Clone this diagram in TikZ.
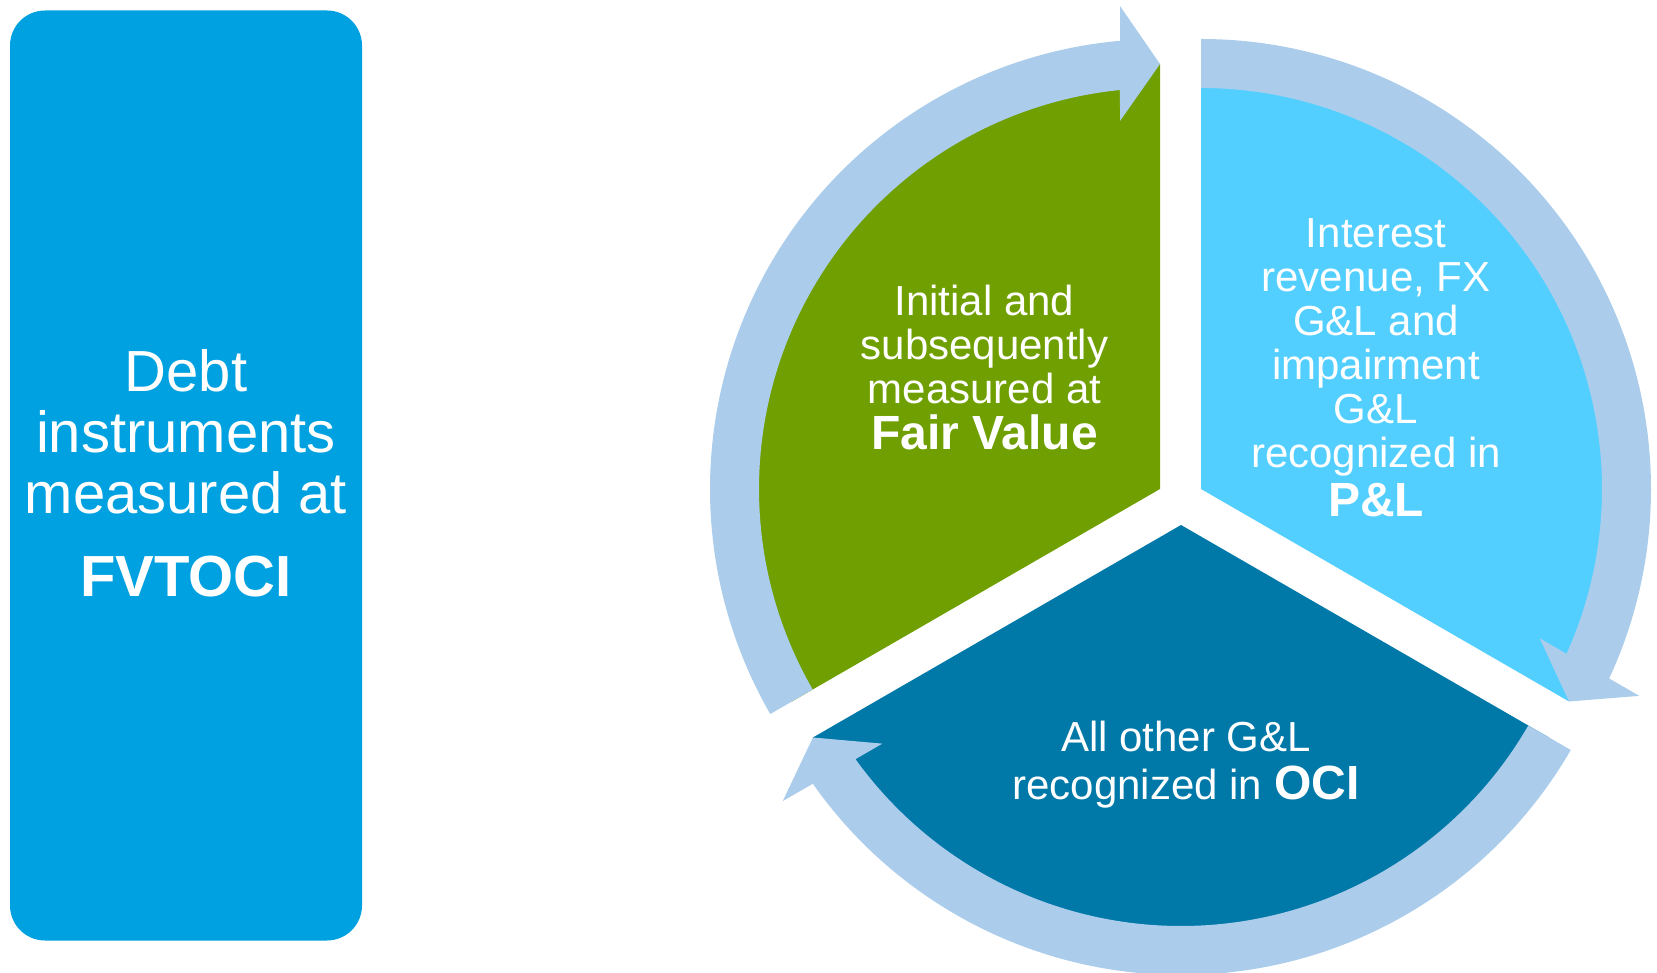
\documentclass[tikz,border=0pt]{standalone}
\usepackage{fontspec}
\setmainfont{Liberation Sans}
\usetikzlibrary{calc}
\definecolor{boxblue}{RGB}{0,161,224}
\definecolor{segGreen}{RGB}{111,159,0}
\definecolor{segLight}{RGB}{83,207,255}
\definecolor{segDark}{RGB}{0,120,168}
\definecolor{ringblue}{RGB}{171,205,235}
\newcommand{\bigbold}[1]{{\fontsize{48}{44}\selectfont\bfseries #1}}
\begin{document}
\begin{tikzpicture}[x=1pt,y=1pt,
  labeltext/.style={text=white, align=center, inner sep=0pt, anchor=base},
  ringarrow/.style={fill=ringblue}
]
\useasboundingbox (0,0) rectangle (1657,972);
% left box
\node[fill=boxblue, rounded corners=35pt, minimum width=352pt, minimum height=930pt, inner sep=0pt] (box) at (186,496.5) {};
\node[labeltext, font=\fontsize{58}{61}\selectfont] (boxtext) at (186,375)
  {Debt\\instruments\\measured at\\[22pt]\textbf{FVTOCI}};
% apexes
\coordinate (G) at (1160,483);
\coordinate (B) at (1201,483);
\coordinate (D) at (1181,447);
% sectors
\fill[segGreen] (G) -- ++(90:425pt) arc[start angle=90, end angle=210, radius=425pt] -- cycle;
\fill[segLight] (B) -- ++(-30:425pt) arc[start angle=-30, end angle=90, radius=425pt] -- cycle;
\fill[segDark] (D) -- ++(210:425pt) arc[start angle=210, end angle=330, radius=425pt] -- cycle;
% ring arrows
\begin{scope}[shift={(G)}]
\fill[ringarrow] (210:401pt) arc[start angle=210, end angle=95.73, radius=401pt]
  -- ($(90:368pt)+(180:40pt)$) -- (90:425pt) -- ($(90:483pt)+(180:40pt)$)
  -- (95.1:450pt) arc[start angle=95.1, end angle=210, radius=450pt] -- cycle;
\end{scope}
\begin{scope}[shift={(B)}]
\fill[ringarrow] (90:401pt) arc[start angle=90, end angle=-24.27, radius=401pt]
  -- ($(-30:368pt)+(60:40pt)$) -- (-30:425pt) -- ($(-30:483pt)+(60:40pt)$)
  -- (-24.9:450pt) arc[start angle=-24.9, end angle=90, radius=450pt] -- cycle;
\end{scope}
\begin{scope}[shift={(D)}]
\fill[ringarrow] (330:401pt) arc[start angle=330, end angle=215.73, radius=401pt]
  -- ($(210:368pt)+(300:40pt)$) -- (210:425pt) -- ($(210:483pt)+(300:40pt)$)
  -- (215.1:450pt) arc[start angle=215.1, end angle=330, radius=450pt] -- cycle;
\end{scope}
% texts
\node[labeltext, font=\fontsize{42}{44}\selectfont] (fvtext) at (984.5,522)
  {Initial and\\subsequently\\measured at\\[2pt]\bigbold{Fair Value}};
\node[labeltext, font=\fontsize{42}{44}\selectfont] (pltext) at (1376,455)
  {Interest\\revenue, FX\\G\&L and\\impairment\\G\&L\\recognized in\\[5pt]\bigbold{P\&L}};
\node[labeltext, font=\fontsize{42}{48}\selectfont] (ocitext) at (1186,172)
  {All other G\&L\\recognized in \bigbold{OCI}};
\end{tikzpicture}
\end{document}
